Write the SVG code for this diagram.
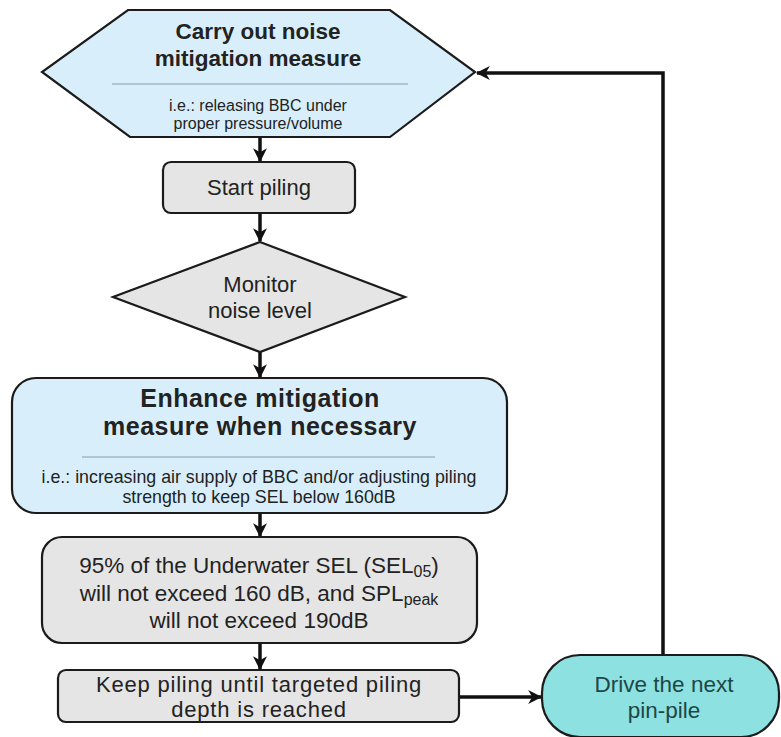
<svg xmlns="http://www.w3.org/2000/svg" width="781" height="737" viewBox="0 0 781 737">
  <defs>
    <marker id="arrow" viewBox="0 0 12 12" refX="11" refY="6" markerWidth="4" markerHeight="4" orient="auto" markerUnits="strokeWidth">
      <path d="M0,0 L12,6 L0,12 L3.5,6 Z" fill="#111"/>
    </marker>
    <style>
      .node { stroke: #1b1b1b; stroke-width: 2.2; }
      .blue { fill: #d8effb; }
      .grey { fill: #e5e5e5; }
      .cyan { fill: #8de1e1; }
      .sep { stroke: #8a9aa6; stroke-width: 1; }
      text { font-family: "Liberation Sans", Arial, sans-serif; fill: #222; text-anchor: middle; }
      .title { font-size: 22.5px; font-weight: bold; }
      .big { font-size: 25px; font-weight: bold; letter-spacing: 0.5px; }
      .sub { font-size: 16px; }
      .sub2 { font-size: 17.8px; }
      .lbl { font-size: 22px; }
      .lbl2 { font-size: 22.5px; }
      .keep { font-size: 22px; letter-spacing: 0.8px; }
      .teal { fill: #1d4747; }
      .edge { fill: none; stroke: #111; stroke-width: 3.5; marker-end: url(#arrow); }
    </style>
  </defs>
  <rect width="781" height="737" fill="#fff"/>

  <!-- Connectors -->
  <g id="connectors">
    <line class="edge" x1="260" y1="137" x2="260" y2="161"/>
    <line class="edge" x1="260" y1="213" x2="260" y2="241"/>
    <line class="edge" x1="260" y1="352" x2="260" y2="377"/>
    <line class="edge" x1="260" y1="513" x2="260" y2="536"/>
    <line class="edge" x1="260" y1="643" x2="260" y2="669"/>
    <line class="edge" x1="459" y1="697" x2="541" y2="697"/>
    <polyline class="edge" points="663,655 663,73 477,73"/>
  </g>

  <!-- Carry out noise mitigation measure -->
  <g id="carry-out">
    <polygon class="node blue" points="128,10 390,10 475,72 390,137 130,137 42,72"/>
    <text class="title" x="258" y="39">Carry out noise</text>
    <text class="title" x="258" y="66">mitigation measure</text>
    <line class="sep" x1="112" y1="84" x2="408" y2="84"/>
    <text class="sub" x="258" y="111">i.e.: releasing BBC under</text>
    <text class="sub" x="258" y="129">proper pressure/volume</text>
  </g>

  <!-- Start piling -->
  <g id="start-piling">
    <rect class="node grey" x="163" y="162" width="192" height="51" rx="8"/>
    <text class="lbl" x="259" y="195">Start piling</text>
  </g>

  <!-- Monitor noise level -->
  <g id="monitor">
    <polygon class="node grey" points="260,242 405,297 260,352 113,297"/>
    <text class="lbl" x="260" y="292">Monitor</text>
    <text class="lbl" x="260" y="318">noise level</text>
  </g>

  <!-- Enhance mitigation measure -->
  <g id="enhance">
    <rect class="node blue" x="12" y="378" width="495" height="135" rx="24"/>
    <text class="big" x="260" y="407">Enhance mitigation</text>
    <text class="big" x="260" y="435">measure when necessary</text>
    <line class="sep" x1="82" y1="457" x2="435" y2="457"/>
    <text class="sub2" x="259" y="483">i.e.: increasing air supply of BBC and/or adjusting piling</text>
    <text class="sub2" x="259" y="503">strength to keep SEL below 160dB</text>
  </g>

  <!-- Noise criteria -->
  <g id="criteria">
    <rect class="node grey" x="42" y="537" width="435" height="106" rx="20"/>
    <text class="lbl2" x="259" y="573">95% of the Underwater SEL (SEL<tspan font-size="16" dy="4">05</tspan><tspan dy="-4">)</tspan></text>
    <text class="lbl2" x="259" y="601">will not exceed 160 dB, and SPL<tspan font-size="16" dy="4">peak</tspan></text>
    <text class="lbl2" x="259" y="628">will not exceed 190dB</text>
  </g>

  <!-- Keep piling -->
  <g id="keep-piling">
    <rect class="node grey" x="58" y="670" width="401" height="52" rx="8"/>
    <text class="keep" x="259" y="692">Keep piling until targeted piling</text>
    <text class="keep" x="259" y="717">depth is reached</text>
  </g>

  <!-- Drive the next pin-pile -->
  <g id="drive-next">
    <rect class="node cyan" x="542" y="655" width="237" height="82" rx="38"/>
    <text class="lbl2 teal" x="664" y="692">Drive the next</text>
    <text class="lbl2 teal" x="664" y="718">pin-pile</text>
  </g>
</svg>
